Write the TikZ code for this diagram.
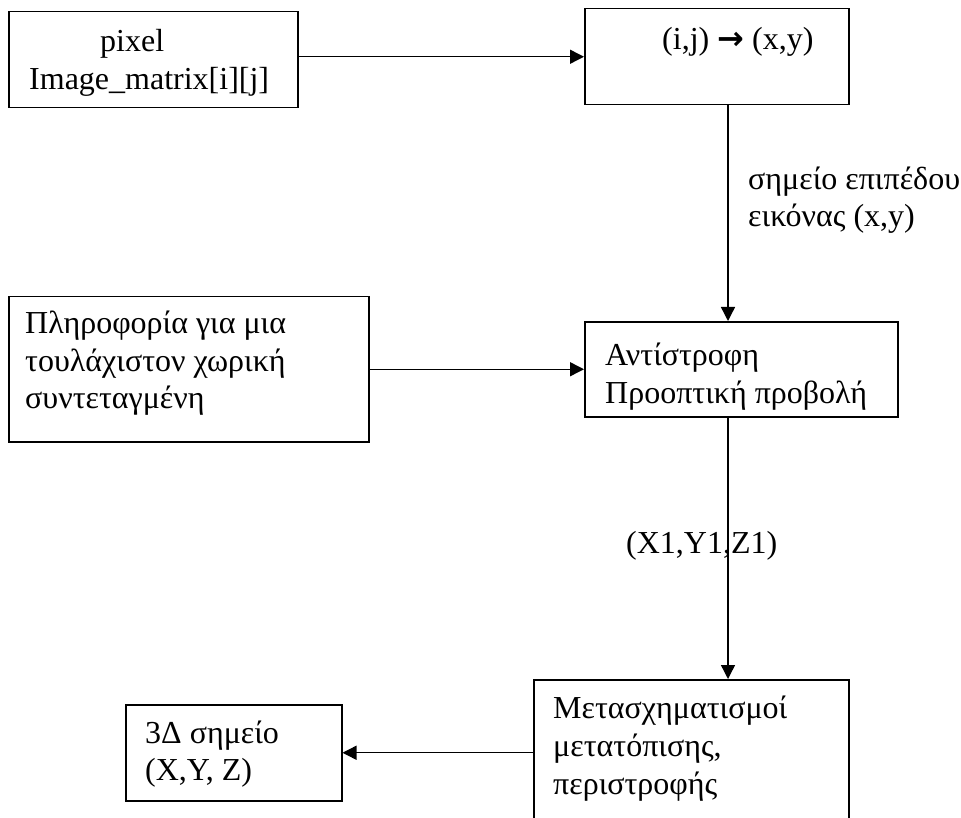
\documentclass[tikz,border=0pt]{standalone}
\usepackage{fontspec}
\setmainfont{Liberation Serif}
\newfontfamily\arrowfont{DejaVu Sans}
\usetikzlibrary{arrows.meta}

\begin{document}
\begin{tikzpicture}[x=1pt,y=-1pt,
  box/.style={draw, line width=1.5pt, inner sep=0pt, anchor=north west},
  txt/.style={anchor=base west, inner sep=0pt, font=\fontsize{32}{37}\selectfont},
  conn/.style={line width=1.4pt, -{Triangle[length=14pt,width=14pt]}}]

\useasboundingbox (0,0) rectangle (961,818);
\clip (0,0) rectangle (961,818);

% boxes
\node[box, minimum width=289pt, minimum height=96pt]  (pix)   at (8,11)    {};
\node[box, minimum width=264pt, minimum height=96pt]  (ij)    at (584,8)   {};
\node[box, minimum width=313pt, minimum height=95pt]  (inv)   at (584,321) {};
\node[box, minimum width=360pt, minimum height=145pt] (info)  at (8,296)   {};
\node[box, minimum width=315pt, minimum height=160pt] (trans) at (533,679) {};
\node[box, minimum width=216pt, minimum height=96pt]  (pt3d)  at (125,704) {};

% vertical connector line
\coordinate (vline) at (728,0);

% box texts
\node[txt] (pixA) at (100,52) {pixel};
\node[txt] (pixB) at (29,90)  {Image\_matrix[i][j]};
\node[txt] (ijA)  at (662,50) {(i,j) {\arrowfont\bfseries →} (x,y)};
\node[txt] (invA) at (605,365) {Αντίστροφη};
\node[txt] (invB) at (605,403) {Προοπτική προβολή};
\node[txt] (infA) at (25,334) {Πληροφορία για μια};
\node[txt] (infB) at (25,371) {τουλάχιστον χωρική};
\node[txt] (infC) at (25,408) {συντεταγμένη};
\node[txt] (trA)  at (553,718) {Μετασχηματισμοί};
\node[txt] (trB)  at (553,756) {μετατόπισης,};
\node[txt] (trC)  at (553,794) {περιστροφής};
\node[txt] (ptA)  at (145,743) {3Δ σημείο};
\node[txt] (ptB)  at (145,780) {(X,Y, Z)};

% connector labels
\node[txt] (lbA) at (748,190) {σημείο επιπέδου};
\node[txt] (lbB) at (748,227) {εικόνας (x,y)};
\node[txt] (lbC) at (626,553) {(X1,Y1,Z1)};

% connectors
\draw[conn] (pix.east |- ij.west) -- (ij.west);
\draw[conn] (ij.south -| vline) -- (inv.north -| vline);
\draw[conn] (info.east) -- (info.east -| inv.west);
\draw[conn] (inv.south -| vline) -- (trans.north -| vline);
\draw[conn] (trans.west |- pt3d.east) -- (pt3d.east);

\end{tikzpicture}
\end{document}
